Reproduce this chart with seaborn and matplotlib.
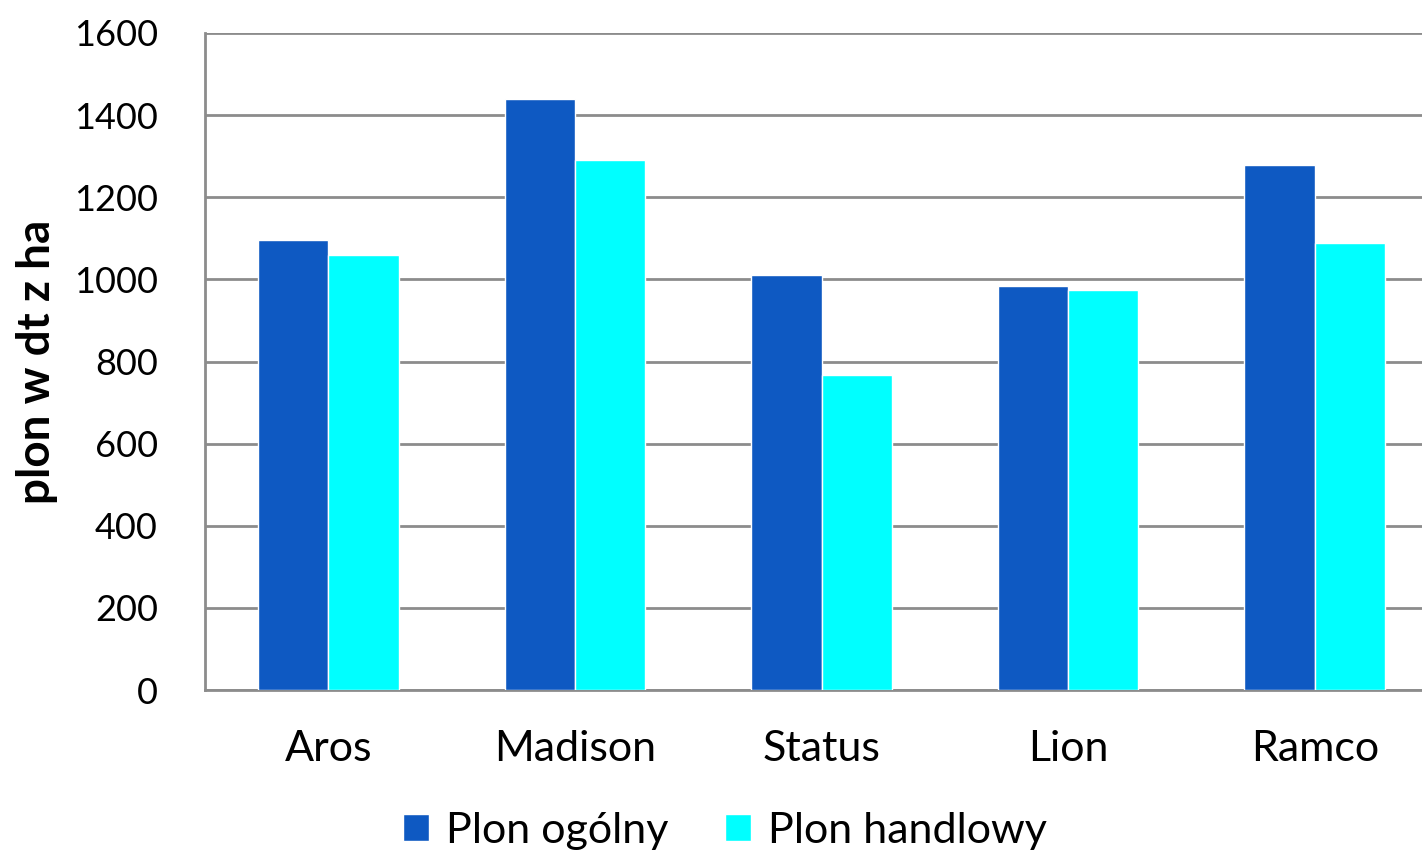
import pandas as pd
import matplotlib.pyplot as plt
from matplotlib.patches import Patch
import seaborn as sns

varieties = ["Aros", "Madison", "Status", "Lion", "Ramco"]
plon_ogolny = [1095, 1440, 1010, 985, 1278]
plon_handlowy = [1060, 1290, 768, 975, 1088]
series = ["Plon ogólny", "Plon handlowy"]
colors = ["#0E59C2", "#00FFFF"]
yticks = [0, 200, 400, 600, 800, 1000, 1200, 1400, 1600]

df = pd.DataFrame({
    "odmiana": varieties * 2,
    "plon": plon_ogolny + plon_handlowy,
    "seria": [series[0]] * len(varieties) + [series[1]] * len(varieties),
})

sns.set_style("white")
plt.rcParams["font.family"] = ["Lato", "DejaVu Sans"]
plt.rcParams["text.color"] = "black"
plt.rcParams["axes.labelcolor"] = "black"
plt.rcParams["xtick.labelcolor"] = "black"
plt.rcParams["ytick.labelcolor"] = "black"

fig = plt.figure(figsize=(14.22, 8.52), dpi=100)
ax = fig.add_axes([205 / 1422, 1 - 690 / 852, 1233 / 1422, 657 / 852])

sns.barplot(data=df, x="odmiana", y="plon", hue="seria", palette=colors,
            width=0.57, saturation=1, ax=ax, legend=False, zorder=3)

ax.set_xlim(-0.5, 4.5)
ax.set_ylim(0, 1600)
ax.set_yticks(yticks)
ax.set_yticklabels([str(t) for t in yticks], fontsize=26)
ax.yaxis.grid(True, color="#8C8C8C", linewidth=2, zorder=0)
ax.set_axisbelow(True)

# category boundaries as x ticks
ax.set_xticks([-0.5, 0.5, 1.5, 2.5, 3.5, 4.5], minor=True)
ax.tick_params(axis="x", which="minor", length=10, width=1.5, color="#8C8C8C", direction="out")
ax.tick_params(axis="x", which="major", length=0, labelsize=31, pad=29)
ax.tick_params(axis="y", length=10, width=1.5, color="#8C8C8C", direction="out", pad=24)

for side in ["top", "right"]:
    ax.spines[side].set_visible(False)
for side in ["left", "bottom"]:
    ax.spines[side].set_color("#8C8C8C")
    ax.spines[side].set_linewidth(2)

ax.set_xlabel("")
ax.set_ylabel("plon w dt z ha", fontsize=33, fontweight="bold", labelpad=11)

handles = [Patch(facecolor=c, label=s) for c, s in zip(colors, series)]
fig.legend(handles=handles, loc="center", bbox_to_anchor=(725 / 1422, 1 - 831 / 852),
           ncol=2, frameon=False, fontsize=31, handlelength=0.6, handleheight=0.6,
           handletextpad=0.4, columnspacing=1.3)

fig.savefig("out.png", dpi=100)
